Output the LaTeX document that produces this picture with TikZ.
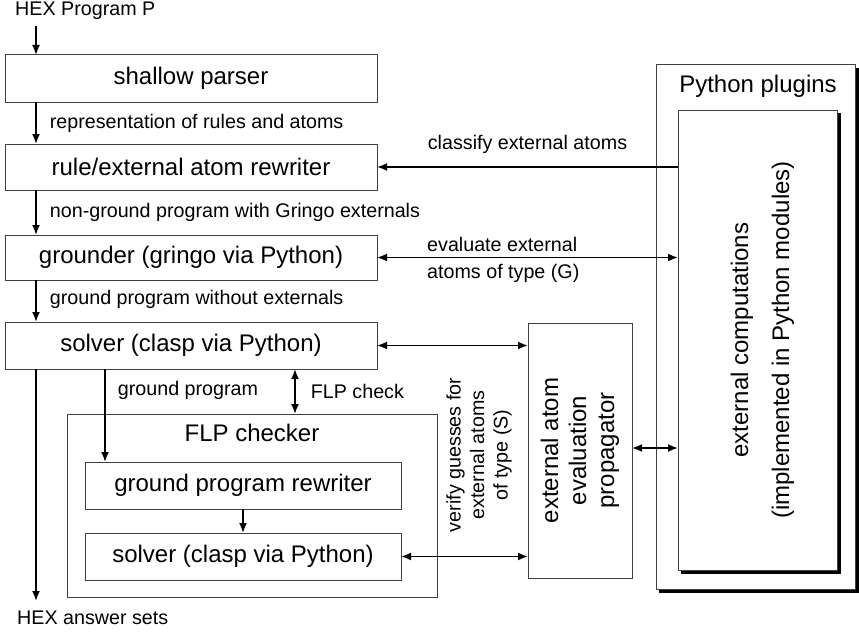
\documentclass[tikz,border=0pt]{standalone}
\usepackage{fontspec}
\setmainfont{Liberation Sans}
\usetikzlibrary{arrows.meta}
\begin{document}
\begin{tikzpicture}[x=1pt,y=-1pt,
  box/.style={draw=black!75,line width=1pt,fill=white,inner sep=0pt,outer sep=0pt,
    font=\fontsize{24}{28}\selectfont},
  shadowbox/.style={fill=black,draw=black,line width=1pt,inner sep=0pt,outer sep=0pt},
  lbl/.style={inner sep=0pt,font=\fontsize{19.7}{23.5}\selectfont},
  arr/.style={line width=1.8pt,-{Latex[length=10pt,width=8pt]}},
  darr/.style={line width=1.8pt,{Latex[length=10pt,width=8pt]}-{Latex[length=10pt,width=8pt]}}]
\useasboundingbox (0,0) rectangle (859,634);

% main pipeline boxes
\node[box,minimum width=372pt,minimum height=47pt] (sp) at (191,78.5) {shallow parser};
\node[box,minimum width=372pt,minimum height=46pt] (rr) at (191,167) {rule/external atom rewriter};
\node[box,minimum width=372pt,minimum height=45pt] (gr) at (191,257.5) {grounder (gringo via Python)};
\node[box,minimum width=372pt,minimum height=47pt] (sv) at (191,345.5) {solver (clasp via Python)};

% FLP checker
\node[box,minimum width=370pt,minimum height=183pt] (flp) at (252,505.5) {};
\node[box,draw=none,fill=none,anchor=center] (flpt) at ([yshift=-19pt]flp.north) {FLP checker};
\node[box,minimum width=316pt,minimum height=47pt] (rw) at (243,485.5) {ground program rewriter};
\node[box,minimum width=316pt,minimum height=47pt] (is) at (243,556.5) {solver (clasp via Python)};

% propagator
\node[box,minimum width=104pt,minimum height=255pt] (prop) at (580,450.5) {};
\node[box,draw=none,fill=none,rotate=90,align=center] (propt) at (prop.center)
  {external atom\\evaluation\\propagator};

% Python plugins (with solid black shadows)
\node[shadowbox,minimum width=199pt,minimum height=524pt] (pysh) at (759,330.5) {};
\node[box,minimum width=199pt,minimum height=524pt] (py) at (755.5,327) {};
\node[box,draw=none,fill=none] (pyt) at (758,86) {Python plugins};
\node[shadowbox,minimum width=159pt,minimum height=460pt] (extsh) at (761,343.5) {};
\node[box,minimum width=159pt,minimum height=460pt] (ext) at (757.5,340) {};
\node[box,draw=none,fill=none,rotate=90,align=center,
  font=\fontsize{24}{41}\selectfont] (extt) at ([xshift=5pt]ext.center)
  {external computations\\(implemented in Python modules)};

% input / output
\node[lbl,anchor=west] (hexp) at (15,11) {HEX Program P};
\coordinate (in) at (36,26);
\node[lbl,anchor=west] (hexa) at (17,618) {HEX answer sets};
\coordinate (out) at (36,601);
\coordinate (pe) at ([yshift=2.5pt]prop.east);

\draw[arr] (in) -- (in |- sp.north);
\draw[arr] ([xshift=31pt]sp.south west) -- node[lbl,right=13pt] {representation of rules and atoms} ([xshift=31pt]rr.north west);
\draw[arr] ([xshift=31pt]rr.south west) -- node[lbl,right=13pt] {non-ground program with Gringo externals} ([xshift=31pt]gr.north west);
\draw[arr] ([xshift=31pt]gr.south west) -- node[lbl,right=13pt,yshift=2pt] {ground program without externals} ([xshift=31pt]sv.north west);
\draw[arr] ([xshift=31pt]sv.south west) -- (out);

\draw[arr] ([xshift=100pt]sv.south west) -- node[lbl,pos=0.23,right=12pt] {ground program} ([xshift=100pt]sv.south west |- rw.north);
\draw[darr] ([xshift=290pt]sv.south west) -- node[lbl,midway,right=15pt] {FLP check} ([xshift=290pt]sv.south west |- flp.north);
\draw[arr] (rw.south) -- (is.north);

\draw[arr] (ext.west |- rr.east) -- node[lbl,midway,yshift=23pt] {classify external atoms} (rr.east);
\draw[darr] (gr.east) -- (ext.west |- gr.east);
\node[lbl,anchor=west] (ev1) at ([xshift=50pt,yshift=13pt]gr.east) {evaluate external};
\node[lbl,anchor=west] (ev2) at ([xshift=50pt,yshift=-16pt]gr.east) {atoms of type (G)};
\draw[darr] (sv.east) -- (prop.west |- sv.east);
\draw[darr] (is.east) -- (prop.west |- is.east);
\draw[darr] (pe) -- (ext.west |- pe);

\node[lbl,rotate=90,align=center] (vf) at (479,455) {verify guesses for\\external atoms\\of type (S)};
\end{tikzpicture}
\end{document}
